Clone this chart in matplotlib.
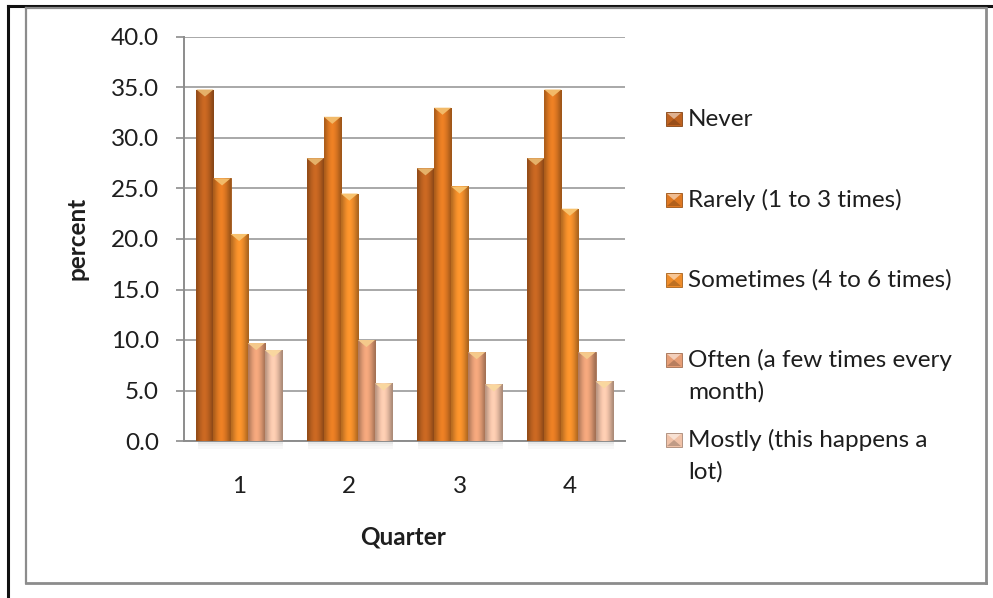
import numpy as np
import matplotlib
matplotlib.use("Agg")
import matplotlib.pyplot as plt
from matplotlib.patches import Rectangle, Polygon
from matplotlib.lines import Line2D
from matplotlib.colors import to_rgb

# ---- data -------------------------------------------------------------
quarters = ["1", "2", "3", "4"]
series_names = [
    "Never",
    "Rarely (1 to 3 times)",
    "Sometimes (4 to 6 times)",
    "Often (a few times every\nmonth)",
    "Mostly (this happens a\nlot)",
]
never = [34.8, 28.0, 27.0, 28.0]
rarely = [26.0, 32.1, 33.0, 34.8]
sometimes = [20.5, 24.5, 25.2, 23.0]
often = [9.7, 10.0, 8.8, 8.8]
mostly = [9.0, 5.7, 5.6, 5.9]
y_ticks = [0, 5, 10, 15, 20, 25, 30, 35, 40]

series_values = [never, rarely, sometimes, often, mostly]
colors = ["#BE6220", "#DE7822", "#EE8C2A", "#E69E76", "#F0C2A8"]

FONT = "Lato"
TEXT_C = "#1e1e1e"
FS = 17.5
W, H = 993, 598

plt.rcParams["font.family"] = [FONT, "DejaVu Sans"]
fig = plt.figure(figsize=(W / 100, H / 100), dpi=100)


def fx(px):
    return px / W


def fy(py):
    return 1 - py / H


# ---- outer frames ----------------------------------------------------
fig.add_artist(Line2D([fx(8), fx(993)], [fy(6), fy(6)], color="#111111", lw=2.2))
fig.add_artist(Line2D([fx(8), fx(8)], [fy(6), fy(598)], color="#111111", lw=2.2))
frame_c = "#8c8c8c"
fig.add_artist(Line2D([fx(26), fx(26)], [fy(8), fy(583)], color=frame_c, lw=1.6))
fig.add_artist(Line2D([fx(26), fx(986)], [fy(8), fy(8)], color=frame_c, lw=1.6))
fig.add_artist(Line2D([fx(986), fx(986)], [fy(8), fy(583)], color=frame_c, lw=2.0))
fig.add_artist(Line2D([fx(26), fx(986)], [fy(583), fy(583)], color=frame_c, lw=2.0))

# ---- plot area -------------------------------------------------------
ax = fig.add_axes([fx(184), fy(441), fx(625) - fx(184), fy(37) - fy(441)])
ax.set_facecolor("none")

n_series = len(series_values)
bar_w = 0.155
x = np.arange(len(quarters))
profile = np.array([0.78, 0.88, 0.97, 1.04, 1.08, 1.06, 1.0, 0.92, 0.82, 0.72])

for si, (vals, col) in enumerate(zip(series_values, colors)):
    base = np.array(to_rgb(col))
    offs = (si - (n_series - 1) / 2) * bar_w
    bars = ax.bar(x + offs, vals, width=bar_w, color=col,
                  edgecolor=tuple(base * 0.7), linewidth=0.6, zorder=3)
    grad = np.clip(profile[:, None] * base[None, :], 0, 1)[None, :, :]
    light = tuple(np.clip(base + (np.array([1.0, 0.9, 0.6]) - base) * 0.6, 0, 1))
    for b in bars:
        x0 = b.get_x()
        x1 = x0 + b.get_width()
        h = b.get_height()
        im = ax.imshow(grad, extent=[x0, x1, 0, h], aspect="auto",
                       interpolation="bilinear", zorder=3.5)
        im.set_clip_path(b)
        # bevelled cap on top of the bar
        ax.add_patch(Polygon([[x0, h], [x1, h], [(x0 + x1) / 2, h - 0.7]],
                             closed=True, facecolor=light, edgecolor="none",
                             zorder=4))
        # soft floor shadow
        for k, a in enumerate([0.18, 0.10, 0.05]):
            ax.add_patch(Rectangle((x0 + 0.01, -0.25 * (k + 1)), x1 - x0,
                                   0.25, facecolor="#777777", alpha=a,
                                   edgecolor="none", zorder=1, clip_on=False))

ax.set_xlim(-0.5, len(quarters) - 0.5)
ax.set_ylim(0, 40)
ax.set_yticks(y_ticks)
ax.set_yticklabels([f"{v:.1f}" for v in y_ticks])
ax.set_xticks(x)
ax.set_xticklabels(quarters)
ax.yaxis.grid(True, color="#9a9a9a", linewidth=1.2, zorder=0)
ax.set_axisbelow(True)

for s in ("top", "right"):
    ax.spines[s].set_visible(False)
for s in ("left", "bottom"):
    ax.spines[s].set_color("#8c8c8c")
    ax.spines[s].set_linewidth(1.4)

ax.tick_params(axis="y", direction="out", length=6, width=1.2, color="#8c8c8c",
               pad=12, labelsize=FS, labelcolor=TEXT_C)
ax.tick_params(axis="x", length=0, pad=25, labelsize=FS, labelcolor=TEXT_C)

fig.text(fx(77), fy(238), "percent", rotation=90, ha="center", va="center",
         fontsize=FS, fontweight="bold", color=TEXT_C)
fig.text(fx(403), fy(537), "Quarter", ha="center", va="center",
         fontsize=FS, fontweight="bold", color=TEXT_C)

# ---- legend ----------------------------------------------------------
leg_y = [119, 200, 280, 360, 440]
line_gap = 32
for name, col, yy in zip(series_names, colors, leg_y):
    base = np.array(to_rgb(col))
    fig.add_artist(Rectangle((fx(666), fy(yy + 7)), fx(16), fy(0) - fy(14),
                             facecolor=col, edgecolor=tuple(base * 0.7),
                             linewidth=0.6))
    light = tuple(np.clip(base + (1 - base) * 0.5, 0, 1))
    dark = tuple(base * 0.8)
    fig.add_artist(Polygon([[fx(667), fy(yy - 6)], [fx(681), fy(yy - 6)],
                            [fx(674), fy(yy)]], closed=True,
                           facecolor=light, edgecolor="none"))
    fig.add_artist(Polygon([[fx(667), fy(yy + 6)], [fx(681), fy(yy + 6)],
                            [fx(674), fy(yy)]], closed=True,
                           facecolor=dark, edgecolor="none"))
    for li, line in enumerate(name.split("\n")):
        fig.text(fx(688), fy(yy + li * line_gap), line, ha="left",
                 va="center", fontsize=FS, color=TEXT_C)

fig.savefig("out.png", dpi=100)
